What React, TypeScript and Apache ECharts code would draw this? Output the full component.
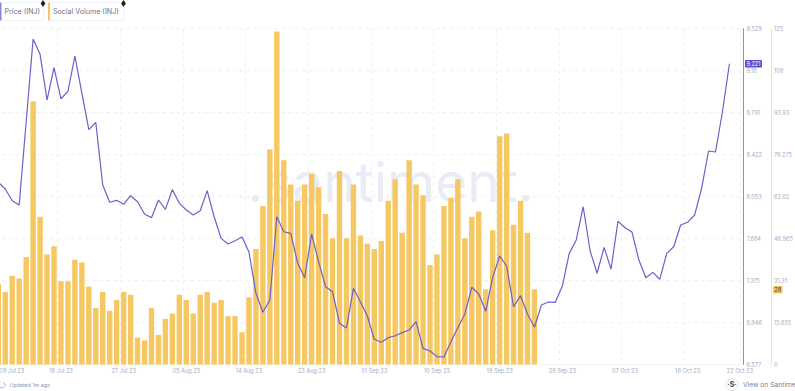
import React, { useEffect, useRef } from "react";
import * as echarts from "echarts";

const dates = ["09 Jul 23","10 Jul","11 Jul","12 Jul","13 Jul","14 Jul","15 Jul","16 Jul","17 Jul","18 Jul 23","19 Jul","20 Jul","21 Jul","22 Jul","23 Jul","24 Jul","25 Jul","26 Jul","27 Jul 23","28 Jul","29 Jul","30 Jul","31 Jul","01 Aug","02 Aug","03 Aug","04 Aug","05 Aug 23","06 Aug","07 Aug","08 Aug","09 Aug","10 Aug","11 Aug","12 Aug","13 Aug","14 Aug 23","15 Aug","16 Aug","17 Aug","18 Aug","19 Aug","20 Aug","21 Aug","22 Aug","23 Aug 23","24 Aug","25 Aug","26 Aug","27 Aug","28 Aug","29 Aug","30 Aug","31 Aug","01 Sep 23","02 Sep","03 Sep","04 Sep","05 Sep","06 Sep","07 Sep","08 Sep","09 Sep","10 Sep 23","11 Sep","12 Sep","13 Sep","14 Sep","15 Sep","16 Sep","17 Sep","18 Sep","19 Sep 23","20 Sep","21 Sep","22 Sep","23 Sep","24 Sep","25 Sep","26 Sep","27 Sep","28 Sep 23","29 Sep","30 Sep","01 Oct","02 Oct","03 Oct","04 Oct","05 Oct","06 Oct","07 Oct 23","08 Oct","09 Oct","10 Oct","11 Oct","12 Oct","13 Oct","14 Oct","15 Oct","16 Oct 23","17 Oct","18 Oct","19 Oct","20 Oct","21 Oct","22 Oct 23",""];
const tickDates = ["09 Jul 23","18 Jul 23","27 Jul 23","05 Aug 23","14 Aug 23","23 Aug 23","01 Sep 23","10 Sep 23","19 Sep 23","28 Sep 23","07 Oct 23","16 Oct 23","22 Oct 23"];
const price = [8.179,8.120,8.017,7.979,8.709,9.438,9.304,8.902,9.186,8.913,8.978,9.289,8.963,8.641,8.706,8.155,8.003,8.020,7.985,8.061,8.008,7.900,7.867,8.023,7.941,8.115,7.994,7.935,7.891,7.929,8.106,7.876,7.686,7.636,7.665,7.698,7.566,7.203,7.036,7.144,7.876,7.744,7.730,7.467,7.340,7.724,7.481,7.261,7.217,6.939,6.898,7.247,7.129,7.003,6.799,6.772,6.813,6.830,6.857,6.880,6.953,6.719,6.696,6.646,6.643,6.777,6.900,7.021,7.256,7.197,7.045,7.343,7.531,7.443,7.085,7.182,7.021,6.904,7.100,7.126,7.124,7.267,7.554,7.671,7.964,7.575,7.379,7.607,7.416,7.838,7.779,7.742,7.496,7.340,7.387,7.326,7.554,7.612,7.803,7.827,7.891,8.124,8.454,8.445,8.799,9.221];
const volume = [30,27,33,32,40,98,55,41,44,31,31,39,38,29,21,27,20,24,27,26,10,9,21,11,17,19,26,24,19,26,27,23,24,18,18,12,25,43,59,80,124,76,67,61,67,71,66,56,47,72,47,67,48,45,43,46,61,69,49,76,67,63,37,41,59,62,69,47,55,57,28,50,85,86,52,61,49,28];
const priceTicks = ["6.577","6.946","7.315","7.684","8.053","8.422","8.791","9.16","9.529"];
const volumeTicks = ["0","15.655","31.31","46.965","62.62","78.275","93.93","109","125"];
const lastPrice = "9.221";
const lastVolume = "28";
const legendNames = ["Price (INJ)", "Social Volume (INJ)"];

const PURPLE = "#6f5fcb";
const YELLOW = "#f6c862";
const MUTED = "#a3aec8";
const FONT = "Inter, 'Noto Sans', sans-serif";
const TICK_SIZE = 5.6;

const DIAMOND = "M0 -3.5 L2.4 0 L0 3.5 L-2.4 0 Z";
echarts.graphic.registerShape("legendDiamond", echarts.graphic.extendPath(DIAMOND as any, {}) as any);

function legendBox(x: number, w: number, color: string, label: string): any[] {
  return [
    { type: "rect", shape: { x: x, y: 2.5, width: w, height: 18, r: 2 }, style: { fill: "#fff", stroke: "#eff1fa", lineWidth: 1 } },
    { type: "rect", shape: { x: x - 1, y: 2.5, width: 2, height: 18 }, style: { fill: color } },
    { type: "text", x: x + 4, y: 11.5, style: { text: label, fill: "#6b7392", font: `7.1px ${FONT}`, textVerticalAlign: "middle" } },
    { type: "circle", shape: { cx: x + w - 0.5, cy: 3.5, r: 4 }, style: { fill: "#fff" } },
    { type: "legendDiamond", x: x + w - 0.5, y: 3.5, style: { fill: "#222" } },
  ];
}

export default function App() {
  const ref = useRef<HTMLDivElement>(null);
  useEffect(() => {
    const chart = echarts.init(ref.current!, undefined, { renderer: "svg" });
    const priceMin = 6.577, priceMax = 9.529;
    const bandW = 6.963;
    const left = -1.7 - bandW / 2;
    chart.setOption({
      animation: false,
      backgroundColor: "#fff",
      grid: { left, top: 28.7, width: bandW * dates.length, height: 335.8, outerBoundsMode: "none", containLabel: false },
      xAxis: {
        type: "category",
        data: dates,
        axisLine: { show: true, lineStyle: { color: "#f2f3f8" } },
        axisTick: { show: false },
        splitLine: {
          show: true,
          interval: (i: number) => tickDates.includes(dates[i]) && i > 0 && i < 105,
          lineStyle: { color: "#eceef4", type: [3, 4], width: 1 },
        },
        axisLabel: {
          show: true,
          interval: (i: number) => tickDates.includes(dates[i]),
          margin: 3.5,
          hideOverlap: false,
          color: MUTED,
          fontSize: TICK_SIZE,
          fontFamily: FONT,
          formatter: (v: string, i: number) => (i === 0 ? `{a|${v}}` : i === 105 ? `{b|${v}}` : v),
          rich: {
            a: { padding: [0, 0, 0, 27], color: MUTED, fontSize: TICK_SIZE, fontFamily: FONT },
            b: { padding: [0, 0, 0, 21], color: MUTED, fontSize: TICK_SIZE, fontFamily: FONT },
          },
        },
      },
      yAxis: [
        {
          type: "value",
          position: "right",
          min: priceMin,
          max: priceMax,
          interval: (priceMax - priceMin) / 8,
          offset: 743 - (left + bandW * dates.length),
          axisLine: { show: true, lineStyle: { color: "#9387e0", width: 1 } },
          axisTick: { show: false },
          splitLine: { show: true, lineStyle: { color: "#eceef4", type: [3, 4] } },
          axisLabel: {
            margin: 3.5, color: MUTED, fontSize: TICK_SIZE, fontFamily: FONT,
            showMinLabel: true, showMaxLabel: true,
            formatter: (_: number, i: number) => priceTicks[i],
          },
        },
        {
          type: "value",
          position: "right",
          min: 0,
          max: 125,
          interval: 15.625,
          offset: 771 - (left + bandW * dates.length),
          axisLine: { show: true, lineStyle: { color: "#fbe3a8", width: 1 } },
          axisTick: { show: false },
          splitLine: { show: false },
          axisLabel: {
            margin: 3, color: MUTED, fontSize: TICK_SIZE, fontFamily: FONT,
            showMinLabel: true, showMaxLabel: true,
            formatter: (_: number, i: number) => volumeTicks[i],
          },
        },
      ],
      series: [
        { type: "bar", name: legendNames[1], yAxisIndex: 1, data: volume, barWidth: 5.4, itemStyle: { color: YELLOW }, z: 2 },
        { type: "line", name: legendNames[0], yAxisIndex: 0, data: price, showSymbol: false, symbol: "none", lineStyle: { color: PURPLE, width: 1.2 }, z: 3 },
      ],
      graphic: [
        { type: "text", x: 390.5, y: 182, z: -1, silent: true, style: { text: ".santiment.", fill: "#e9ecf6", font: `400 55px ${FONT}`, textAlign: "center", textVerticalAlign: "middle", letterSpacing: 0 } },
        ...legendBox(0.5, 43, "#8f83e0", legendNames[0]),
        ...legendBox(49, 75, YELLOW, legendNames[1]),
        { type: "rect", shape: { x: 745, y: 60, width: 17, height: 7.5, r: 1 }, style: { fill: "#5a4dc4" } },
        { type: "text", x: 753.5, y: 63.8, style: { text: lastPrice, fill: "#fff", font: `${TICK_SIZE}px ${FONT}`, textAlign: "center", textVerticalAlign: "middle" } },
        { type: "rect", shape: { x: 773, y: 286, width: 9.5, height: 7.5, r: 1 }, style: { fill: YELLOW } },
        { type: "text", x: 777.7, y: 289.8, style: { text: lastVolume, fill: "#333", font: `${TICK_SIZE}px ${FONT}`, textAlign: "center", textVerticalAlign: "middle" } },
        { type: "arc", shape: { cx: 2, cy: 385, r: 3, startAngle: -1.2, endAngle: 4.2 }, style: { stroke: "#9aa3bb", lineWidth: 0.8, fill: "none" } },
        { type: "text", x: 9.5, y: 385, style: { text: "Updated 1m ago", fill: "#8a93ad", font: `5.3px ${FONT}`, textVerticalAlign: "middle" } },
        { type: "circle", shape: { cx: 732, cy: 384.5, r: 6 }, style: { fill: "#fff", stroke: "#dfe2ea", lineWidth: 1 } },
        { type: "text", x: 732, y: 384.5, style: { text: "·S·", fill: "#3a4160", font: `bold 7px ${FONT}`, textAlign: "center", textVerticalAlign: "middle" } },
        { type: "text", x: 743, y: 384.5, style: { text: "View on Santiment", fill: "#7a84a0", font: `6.7px ${FONT}`, textVerticalAlign: "middle" } },
      ],
    });
    return () => chart.dispose();
  }, []);
  return <div ref={ref} style={{ position: "fixed", left: 0, top: 0, width: 795, height: 391 }} />;
}
